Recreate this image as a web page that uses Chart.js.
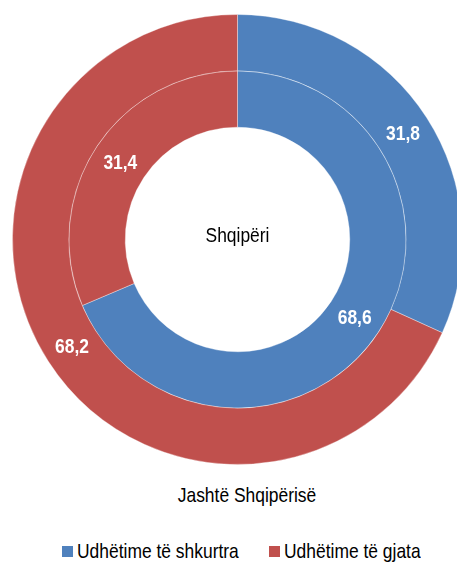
<!DOCTYPE html>
<html>
<head>
<meta charset="utf-8">
<script src="https://cdn.jsdelivr.net/npm/chart.js@4"></script>
<style>
  html,body{margin:0;padding:0;background:#fff;overflow:hidden}
  body{width:457px;height:562px;position:relative;font-family:"Liberation Sans Narrow","Liberation Sans",Arial,sans-serif}
  #wrap{position:absolute;left:0;top:14px;width:475px;height:451px}
  #outerTitle{position:absolute;left:0;width:494px;top:482px;text-align:center;font-size:21px;color:#000;line-height:26px;white-space:nowrap;transform:scaleX(0.83);transform-origin:247px 0}
  #legend{position:absolute;left:62px;top:538px;font-size:21px;line-height:26px;white-space:nowrap;color:#000}
  .item{position:absolute;top:0}
  .box{position:absolute;top:8px;left:0;width:11px;height:11px}
  .txt{position:absolute;left:15px;top:0;transform:scaleX(0.83);transform-origin:0 0}
</style>
</head>
<body>
<div id="wrap"><canvas id="chart"></canvas></div>
<div id="outerTitle"></div>
<div id="legend"></div>
<script>
// kategorite dhe vlerat (%)
const categories = ['Udhëtime të shkurtra', 'Udhëtime të gjata'];
const colors = ['#4F81BD', '#C0504D'];
const outerLabel = 'Jashtë Shqipërisë';
const innerLabel = 'Shqipëri';
const outerValues = [31.8, 68.2];   // Jashtë Shqipërisë
const innerValues = [68.6, 31.4];   // Shqipëri

function $(id){return document.getElementById(id)}

// tekst i ngushtuar (s'ka Arial Narrow)
function narrowText(ctx, t, x, y){
  ctx.save();
  ctx.translate(x, y);
  ctx.scale(0.83, 1);
  ctx.fillText(t, 0, 0);
  ctx.restore();
}

// vlerat mbi harqe + teksti ne qender
const arcText = {
  id: 'arcText',
  afterDatasetsDraw(chart){
    const ctx = chart.ctx;
    ctx.save();
    ctx.textAlign = 'center';
    ctx.textBaseline = 'middle';
    ctx.font = 'bold 21px "Liberation Sans", Arial';
    ctx.fillStyle = '#fff';
    chart.data.datasets.forEach((ds, di)=>{
      chart.getDatasetMeta(di).data.forEach((arc, i)=>{
        const p = arc.getCenterPoint();
        narrowText(ctx, ds.data[i].toFixed(1).replace('.', ','), p.x, p.y + 1);
      });
    });
    const a = chart.getDatasetMeta(0).data[0];
    ctx.font = '21px "Liberation Sans", Arial';
    ctx.fillStyle = '#000';
    narrowText(ctx, innerLabel, a.x, a.y - 3);
    ctx.restore();
  }
};

new Chart($('chart').getContext('2d'), {
  type: 'doughnut',
  data: {
    labels: categories,
    datasets: [
      { label: outerLabel, data: outerValues, backgroundColor: colors, borderColor: 'rgba(255,255,255,0.35)', borderWidth: 1 },
      { label: innerLabel, data: innerValues, backgroundColor: colors, borderColor: 'rgba(255,255,255,0.35)', borderWidth: 1 }
    ]
  },
  options: {
    responsive: true,
    maintainAspectRatio: false,
    animation: false,
    cutout: '49.9%',
    layout: { padding: 0 },
    plugins: { legend: { display: false }, tooltip: { enabled: false } }
  },
  plugins: [arcText]
});

$('outerTitle').textContent = outerLabel;
const lg = $('legend');
const xs = [0, 207];
categories.forEach((c, i)=>{
  const it = document.createElement('div');
  it.className = 'item';
  it.style.left = xs[i] + 'px';
  it.innerHTML = '<span class="box" style="background:' + colors[i] + '"></span><span class="txt">' + c + '</span>';
  lg.appendChild(it);
});
</script>
</body>
</html>
